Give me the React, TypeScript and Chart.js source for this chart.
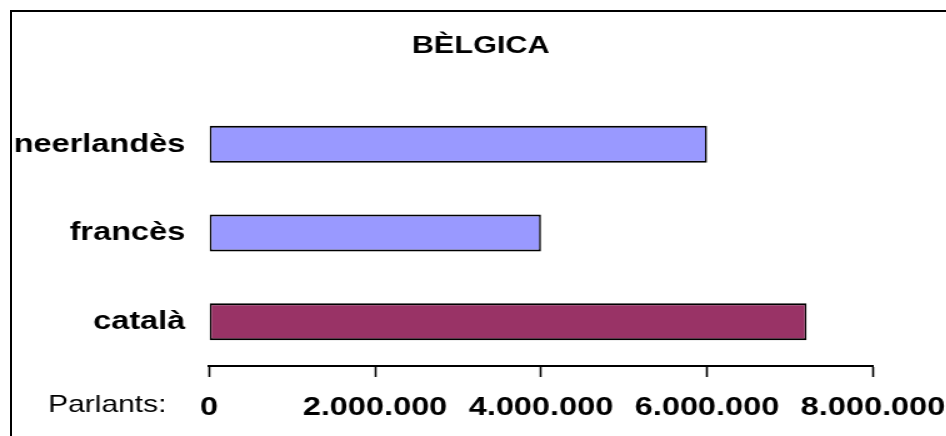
import React, { useEffect, useRef } from "react";
import { Chart, registerables } from "chart.js";

Chart.register(...registerables);

const categories = ["neerlandès", "francès", "català"];
const speakers = [6000000, 4000000, 7200000];
const barColors = ["#9999FF", "#9999FF", "#993366"];
const xMin = 0;
const xMax = 8000000;
const xStep = 2000000;
const titleText = "BÈLGICA";
const axisPrefix = "Parlants:";

const FONT = "'Liberation Sans', Arial, Helvetica, sans-serif";
const STRETCH = 1.25;
const W = 946;
const H = 436;
const CW = Math.round(W / STRETCH);

function fmt(v: number): string {
  return String(Math.round(v)).replace(/\B(?=(\d{3})+(?!\d))/g, ".");
}

const textPlugin = {
  id: "extraText",
  afterDraw(chart: any) {
    const x = chart.scales.x;
    const ctx = chart.ctx;
    ctx.save();
    ctx.fillStyle = "#000";
    ctx.textBaseline = "middle";
    // title
    ctx.font = `bold 24.5px ${FONT}`;
    ctx.textAlign = "center";
    ctx.fillText(titleText, chart.width / 2 + 6, 46);
    // axis prefix
    ctx.font = `normal 24px ${FONT}`;
    ctx.textAlign = "right";
    const y = x.top + 11 + 28;
    ctx.fillText(axisPrefix, chart.chartArea.left - 34, y);
    ctx.restore();
  },
};

export default function App() {
  const ref = useRef<HTMLCanvasElement | null>(null);
  useEffect(() => {
    if (!ref.current) return;
    const chart = new Chart(ref.current, {
      type: "bar",
      data: {
        labels: categories,
        datasets: [
          {
            data: speakers,
            backgroundColor: barColors,
            borderColor: "#000",
            borderWidth: { top: 2, bottom: 2, left: 1.6, right: 1.6 } as any,
            borderSkipped: false,
            categoryPercentage: 1,
            barPercentage: 0.418,
          },
        ],
      },
      options: {
        indexAxis: "y",
        animation: false,
        responsive: false,
        maintainAspectRatio: false,
        layout: { padding: { left: 0, right: 58.6, top: 100, bottom: 0 } },
        plugins: {
          legend: { display: false },
          tooltip: { enabled: false },
          title: { display: false },
        },
        scales: {
          x: {
            type: "linear",
            min: xMin,
            max: xMax,
            ticks: {
              stepSize: xStep,
              color: "#000",
              font: { family: FONT, size: 26, weight: "bold" },
              padding: 15,
              maxRotation: 0,
              callback: (v: any) => fmt(Number(v)),
            },
            grid: {
              drawOnChartArea: false,
              drawTicks: true,
              tickLength: 11,
              tickColor: "#000",
              tickWidth: 1.6,
            },
            border: { display: true, color: "#000", width: 2 },
            afterFit: (s: any) => {
              s.height = 70;
              s.paddingLeft = 0;
              s.paddingRight = 0;
            },
          },
          y: {
            ticks: {
              color: "#000",
              font: { family: FONT, size: 26, weight: "bold" },
              padding: 19,
            },
            grid: { display: false, drawTicks: false },
            border: { display: false },
            afterFit: (s: any) => {
              s.width = 167.2;
            },
          },
        },
      },
      plugins: [textPlugin],
    });
    return () => chart.destroy();
  }, []);

  return (
    <div
      style={{
        position: "fixed",
        left: 0,
        top: 0,
        width: W,
        height: H,
        overflow: "hidden",
        background: "#fff",
      }}
    >
      <canvas
        ref={ref}
        width={CW}
        height={H}
        style={{
          position: "absolute",
          left: 0,
          top: 0,
          width: CW,
          height: H,
          transform: `scaleX(${STRETCH})`,
          transformOrigin: "0 0",
        }}
      />
      <div
        style={{
          position: "absolute",
          left: 10,
          top: 10,
          width: 1000,
          height: 500,
          border: "2px solid #000",
          pointerEvents: "none",
        }}
      />
    </div>
  );
}
